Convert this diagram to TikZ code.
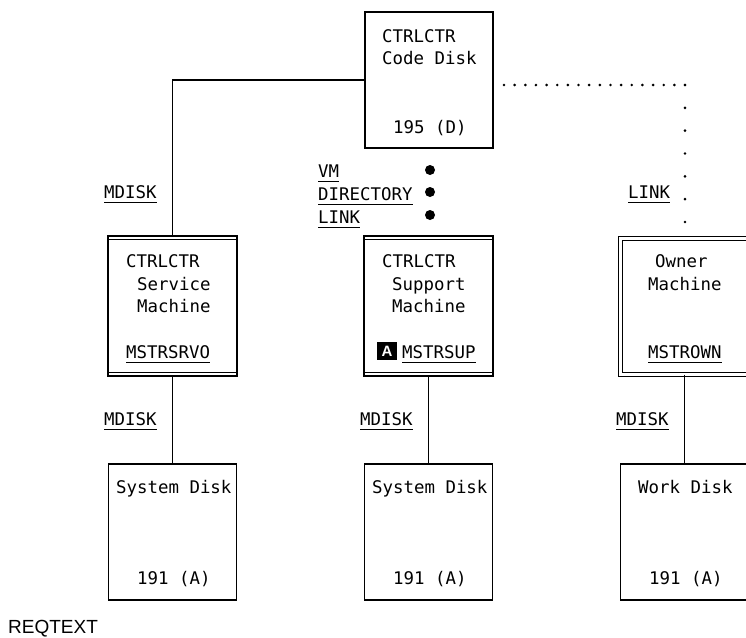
\documentclass[tikz,border=0pt]{standalone}
\usepackage{fontspec}
\setmainfont{Liberation Sans}
\setmonofont{DejaVu Sans Mono}
\usetikzlibrary{calc}

\tikzset{
  txt/.style={anchor=base west, inner sep=0pt, font=\ttfamily\fontsize{17.4}{20}\selectfont},
  disk/.style={draw, line width=1.1pt, inner sep=0pt, minimum width=128pt, minimum height=136pt},
  vmbox/.style={disk, minimum width=129pt, minimum height=140pt},
  ownbox/.style={draw, double, line width=1pt, double distance=3pt, inner sep=0pt, minimum width=129pt, minimum height=136pt},
  markA/.style={fill=black, text=white, inner sep=0pt, minimum width=20pt, minimum height=18pt, font=\bfseries\fontsize{15}{15}\selectfont},
  conn/.style={line width=1.1pt},
  uline/.style={line width=1.6pt},
  linkdots/.style={line width=2.9pt, line cap=round},
}

\begin{document}
\begin{tikzpicture}[x=1pt,y=-1pt]
		\useasboundingbox (0,0) rectangle (746,637);
		
		\node[disk] (code) at (429,80) {};
		\node[vmbox] (srv) at (172.5,306) {};
		\node[vmbox] (sup) at (428.5,306) {};
		\node[ownbox] (own) at (684.5,306) {};
		\node[disk] (sd1) at (172.5,532) {};
		\node[disk] (sd2) at (428.5,532) {};
		\node[disk] (wd) at (684.5,532) {};
		
		\foreach \b in {srv,sup} {
			\draw[conn] ([yshift=-4pt]\b.north west) -- ([yshift=-4pt]\b.north east);
			\draw[conn] ([yshift=4pt]\b.south west) -- ([yshift=4pt]\b.south east);
		}
		
		\draw[conn] (code.west) -| (srv.north);
		\draw[conn] (srv.south) -- (sd1.north);
		\draw[conn] (sup.south) -- (sd2.north);
		\draw[conn] (own.south) -- (wd.north);
		
		\coordinate (lk0) at (504,85);
		\coordinate (lk1) at (685,85);
		\coordinate (lk2) at (685,222);
		\draw[linkdots, dash pattern=on 0pt off 10.647pt] (lk0) -- (lk1);
		\draw[linkdots, dash pattern=on 0pt off 22.833pt] (lk1) -- (lk2);
		
		\foreach \y in {170,192,215}
			\fill (430,\y) circle (5pt);
		
		\node[txt] (cdt1) at (382,42) {CTRLCTR};
		\node[txt] (cdt2) at (382,64) {Code Disk};
		\node[txt] (cdt3) at (393,133) {195 (D)};
		
		\node[txt] (svt1) at (126,267) {CTRLCTR};
		\node[txt] (svt2) at (137,290) {Service};
		\node[txt] (svt3) at (137,312) {Machine};
		\node[txt] (svid) at (126,358) {MSTRSRVO};
		
		\node[txt] (spt1) at (382,267) {CTRLCTR};
		\node[txt] (spt2) at (392,290) {Support};
		\node[txt] (spt3) at (392,312) {Machine};
		\node[txt] (spid) at (402,358) {MSTRSUP};
		\node[markA] (mka) at (387,351) {A};
		
		\node[txt] (owt1) at (655,267) {Owner};
		\node[txt] (owt2) at (648,290) {Machine};
		\node[txt] (owid) at (648,358) {MSTROWN};
		
		\node[txt] (d1t) at (116,493) {System Disk};
		\node[txt] (d1n) at (137,584) {191 (A)};
		\node[txt] (d2t) at (372,493) {System Disk};
		\node[txt] (d2n) at (393,584) {191 (A)};
		\node[txt] (d3t) at (638,493) {Work Disk};
		\node[txt] (d3n) at (649,584) {191 (A)};
		
		\node[txt] (lmd0) at (104,198) {MDISK};
		\node[txt] (lvm) at (318,177) {VM};
		\node[txt] (ldir) at (318,200) {DIRECTORY};
		\node[txt] (llk0) at (318,223) {LINK};
		\node[txt] (llk1) at (628,198) {LINK};
		\node[txt] (lmd1) at (104,425) {MDISK};
		\node[txt] (lmd2) at (360,425) {MDISK};
		\node[txt] (lmd3) at (616,425) {MDISK};
		
		\foreach \n in {svid,spid,owid,lmd0,lvm,ldir,llk0,llk1,lmd1,lmd2,lmd3}
			\draw[uline] ([yshift=-4.5pt]\n.base west) -- ([yshift=-4.5pt]\n.base east);
		
		\node[anchor=base west, inner sep=0pt, font=\fontsize{19}{22}\selectfont] (req) at (8,633) {REQTEXT};
\end{tikzpicture}
\end{document}
